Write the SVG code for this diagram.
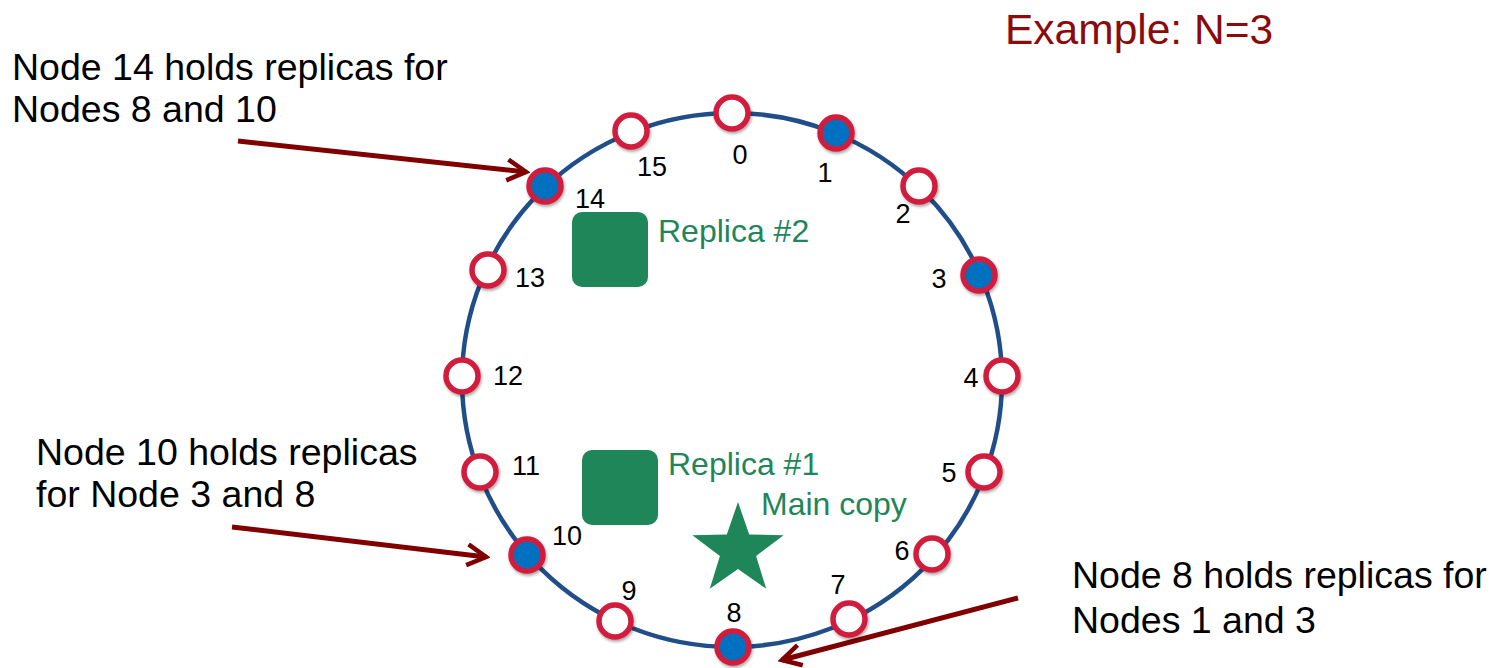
<svg xmlns="http://www.w3.org/2000/svg" width="1495" height="668" viewBox="0 0 1495 668">
<style>
text{font-family:"Liberation Sans",Arial,Helvetica,sans-serif}
.note{font-size:37.5px;fill:#000}
.num{font-size:27px;fill:#000;text-anchor:middle}
.green{font-size:32px;fill:#1E8659}
.node{stroke:#D21F3C;stroke-width:5.5;filter:url(#sh)}
.empty{fill:#fff}
.full{fill:#0070C0}
.arrow{stroke:#800000;stroke-width:5;fill:none;marker-end:url(#ah)}
</style>
<defs>
<filter id="sh" x="-50%" y="-50%" width="200%" height="200%">
<feDropShadow dx="1" dy="2" stdDeviation="1.5" flood-color="#000" flood-opacity="0.35"/>
</filter>
<marker id="ah" viewBox="0 0 12 12" refX="10" refY="6" markerWidth="5" markerHeight="5" orient="auto" markerUnits="strokeWidth">
<path d="M1,1 L10,6 L1,11" fill="none" stroke="#800000" stroke-width="2.2"/>
</marker>
</defs>
<rect width="1495" height="668" fill="#fff"/>
<g id="ring"><ellipse cx="732" cy="380" rx="270" ry="267" fill="none" stroke="#1F4E89" stroke-width="4.5"/></g>
<g id="connectors">
<line class="arrow" x1="238" y1="141" x2="526" y2="172"/>
<line class="arrow" x1="232" y1="527" x2="486" y2="557"/>
<line class="arrow" x1="1018" y1="598" x2="782" y2="660"/>
</g>
<g id="n0"><circle class="node empty" cx="732" cy="113" r="16"/><text class="num" x="740" y="164">0</text></g>
<g id="n1"><circle class="node full" cx="836" cy="133" r="16"/><text class="num" x="825" y="182">1</text></g>
<g id="n2"><circle class="node empty" cx="919" cy="186" r="16"/><text class="num" x="903" y="223">2</text></g>
<g id="n3"><circle class="node full" cx="979" cy="275" r="16"/><text class="num" x="939" y="288">3</text></g>
<g id="n4"><circle class="node empty" cx="1002" cy="376" r="16"/><text class="num" x="971" y="387">4</text></g>
<g id="n5"><circle class="node empty" cx="984" cy="472" r="16"/><text class="num" x="949" y="482">5</text></g>
<g id="n6"><circle class="node empty" cx="932" cy="554" r="16"/><text class="num" x="902" y="560">6</text></g>
<g id="n7"><circle class="node empty" cx="849" cy="619" r="16"/><text class="num" x="838" y="594">7</text></g>
<g id="n8"><circle class="node full" cx="733" cy="647" r="16"/><text class="num" x="734" y="622">8</text></g>
<g id="n9"><circle class="node empty" cx="615" cy="621" r="16"/><text class="num" x="629" y="600">9</text></g>
<g id="n10"><circle class="node full" cx="527" cy="555" r="16"/><text class="num" x="567" y="545">10</text></g>
<g id="n11"><circle class="node empty" cx="480" cy="472" r="16"/><text class="num" x="526" y="475">11</text></g>
<g id="n12"><circle class="node empty" cx="462" cy="376" r="16"/><text class="num" x="508" y="385">12</text></g>
<g id="n13"><circle class="node empty" cx="488" cy="270" r="16"/><text class="num" x="530" y="287">13</text></g>
<g id="n14"><circle class="node full" cx="545" cy="186" r="16"/><text class="num" x="590" y="208">14</text></g>
<g id="n15"><circle class="node empty" cx="631" cy="131" r="16"/><text class="num" x="652" y="176">15</text></g>
<g id="replica2"><rect x="572" y="212" width="76" height="75" rx="10" fill="#1E8659"/><text class="green" x="658" y="242">Replica #2</text></g>
<g id="replica1"><rect x="582" y="450" width="76" height="75" rx="10" fill="#1E8659"/><text class="green" x="668" y="475">Replica #1</text></g>
<g id="main"><polygon points="738,502 749.2,534.6 783.6,535.2 756.1,555.9 766.2,588.8 738,569 709.8,588.8 719.9,555.9 692.4,535.2 726.8,534.6" fill="#1E8659"/><text class="green" x="761" y="515">Main copy</text></g>
<g id="title"><text x="1005" y="44" style="font-size:42.5px;fill:#8B0A0A">Example: N=3</text></g>
<g id="note14"><text class="note" x="12" y="80">Node 14 holds replicas for</text><text class="note" x="12" y="122">Nodes 8 and 10</text></g>
<g id="note10"><text class="note" x="36" y="465">Node 10 holds replicas</text><text class="note" x="36" y="507">for Node 3 and 8</text></g>
<g id="note8"><text class="note" x="1072" y="588">Node 8 holds replicas for</text><text class="note" x="1072" y="633">Nodes 1 and 3</text></g>
</svg>
